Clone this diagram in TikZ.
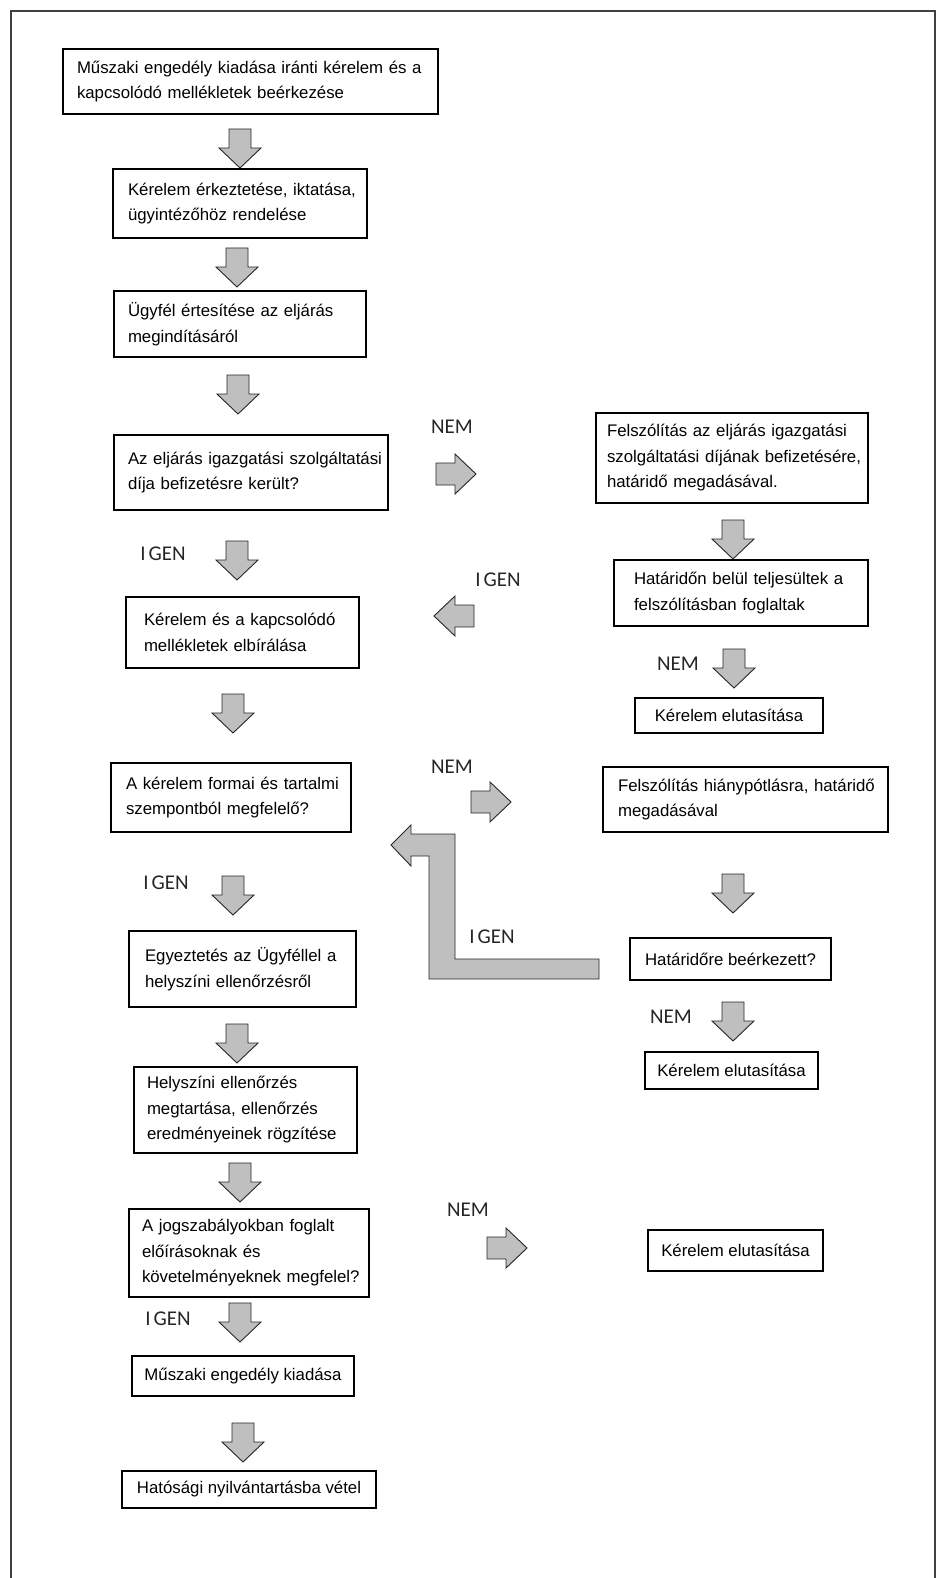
\documentclass[tikz,border=0pt]{standalone}
\usepackage{fontspec}
\setmainfont{Liberation Sans}
\newfontfamily\labfont{Carlito}
\newcommand{\DArrow}[2]{\draw[blk] ({#1-11},#2) -- ({#1+11},#2) -- ({#1+11},{#2+19}) -- ({#1+21},{#2+19}) -- (#1,{#2+39}) -- ({#1-21},{#2+19}) -- ({#1-11},{#2+19}) -- cycle;}
\newcommand{\RArrow}[2]{\draw[blk] (#1,{#2-11}) -- ({#1+19},{#2-11}) -- ({#1+19},{#2-20}) -- ({#1+40},#2) -- ({#1+19},{#2+20}) -- ({#1+19},{#2+11}) -- (#1,{#2+11}) -- cycle;}
\newcommand{\LArrow}[2]{\draw[blk] (#1,{#2-11}) -- ({#1-19},{#2-11}) -- ({#1-19},{#2-20}) -- ({#1-40},#2) -- ({#1-19},{#2+20}) -- ({#1-19},{#2+11}) -- (#1,{#2+11}) -- cycle;}
\begin{document}
\begin{tikzpicture}[x=1pt,y=-1pt,
  box/.style={draw=black, line width=1.1pt, fill=white, inner ysep=0pt,
    font=\fontsize{16.8pt}{25.5pt}\selectfont},
  mbox/.style={box, align=left},
  sbox/.style={box, align=center, inner xsep=0pt},
  lab/.style={font=\labfont\fontsize{21pt}{24pt}\selectfont, inner sep=0pt, text=black!85},
  blk/.style={draw=black!85, line width=0.9pt, fill=black!25, line join=miter}]
\useasboundingbox (0,0) rectangle (944,1578);
% frame
\draw[line width=1.2pt, black!75] (11,1578) -- (11,11) -- (935,11) -- (935,1578);

% left column boxes
\node[mbox, text width=347pt, inner xsep=14pt, minimum height=65pt] (b1) at (250.5,81.5)
  {\mbox{Műszaki engedély kiadása iránti kérelem és a}\\\mbox{kapcsolódó mellékletek beérkezése}};
\node[mbox, text width=224pt, inner xsep=15pt, minimum height=69pt] (b2) at (240,203.5)
  {\mbox{Kérelem érkeztetése, iktatása,}\\\mbox{ügyintézőhöz rendelése}};
\node[mbox, text width=224pt, inner xsep=14pt, minimum height=66pt] (b3) at (240,324)
  {\mbox{Ügyfél értesítése az eljárás}\\\mbox{megindításáról}};
\node[mbox, text width=246pt, inner xsep=14pt, minimum height=75pt] (b4) at (251,472.5)
  {\mbox{Az eljárás igazgatási szolgáltatási}\\\mbox{díja befizetésre került?}};
\node[mbox, text width=197pt, inner xsep=18pt, minimum height=71pt] (b5) at (242.5,632.5)
  {\mbox{Kérelem és a kapcsolódó}\\\mbox{mellékletek elbírálása}};
\node[mbox, text width=210pt, inner xsep=15pt, minimum height=69pt] (b6) at (231,797.5)
  {\mbox{A kérelem formai és tartalmi}\\\mbox{szempontból megfelelő?}};
\node[mbox, text width=195pt, inner xsep=16pt, minimum height=76pt] (b7) at (242.5,969)
  {\mbox{Egyeztetés az Ügyféllel a}\\\mbox{helyszíni ellenőrzésről}};
\node[mbox, text width=197pt, inner xsep=13pt, minimum height=86pt] (b8) at (245.5,1110)
  {\mbox{Helyszíni ellenőrzés}\\\mbox{megtartása, ellenőrzés}\\\mbox{eredményeinek rögzítése}};
\node[mbox, text width=214pt, inner xsep=13pt, minimum height=88pt] (b9) at (249,1253)
  {\mbox{A jogszabályokban foglalt}\\\mbox{előírásoknak és}\\\mbox{követelményeknek megfelel?}};
\node[sbox, minimum width=222pt, minimum height=40pt] (b10) at (243,1376) {Műszaki engedély kiadása};
\node[sbox, minimum width=254pt, minimum height=37pt] (b11) at (249,1489.5) {Hatósági nyilvántartásba vétel};

% right column boxes
\node[mbox, text width=250pt, inner xsep=11pt, minimum height=90pt] (r1) at (732,458)
  {\mbox{Felszólítás az eljárás igazgatási}\\\mbox{szolgáltatási díjának befizetésére,}\\\mbox{határidő megadásával.}};
\node[mbox, text width=214pt, inner xsep=20pt, minimum height=66pt] (r2) at (741,593)
  {\mbox{Határidőn belül teljesültek a}\\\mbox{felszólításban foglaltak}};
\node[sbox, minimum width=188pt, minimum height=35pt] (r3) at (729,715.5) {Kérelem elutasítása};
\node[mbox, text width=255pt, inner xsep=15pt, minimum height=65pt] (r4) at (745.5,799.5)
  {\mbox{Felszólítás hiánypótlásra, határidő}\\\mbox{megadásával}};
\node[sbox, minimum width=201pt, minimum height=42pt] (r5) at (730.5,959) {Határidőre beérkezett?};
\node[sbox, minimum width=173pt, minimum height=37pt] (r7) at (731.5,1070.5) {Kérelem elutasítása};
\node[sbox, minimum width=175pt, minimum height=41pt] (r6) at (735.5,1250.5) {Kérelem elutasítása};

% down block arrows, left column
\DArrow{240}{129}
\DArrow{237}{248}
\DArrow{238}{375}
\DArrow{237}{541}
\DArrow{233}{694}
\DArrow{233}{876}
\DArrow{237}{1024}
\DArrow{240}{1163}
\DArrow{240}{1303}
\DArrow{243}{1423}
% down block arrows, right column
\DArrow{733}{520}
\DArrow{734}{649}
\DArrow{733}{874}
\DArrow{733}{1002}
% side arrows
\RArrow{436}{474}
\LArrow{474}{616}
\RArrow{471}{802}
\RArrow{487}{1248}
% bent return arrow
\draw[blk] (599,979) -- (429,979) -- (429,856) -- (411,856) -- (411,866) -- (391,845)
  -- (411,825) -- (411,834) -- (455,834) -- (455,959) -- (599,959) -- cycle;

% labels
\node[lab] (n1) at (452,427) {NEM};
\node[lab] (i1) at (163,554) {I\kern3pt GEN};
\node[lab] (i2) at (498,580) {I\kern3pt GEN};
\node[lab] (n2) at (678,664) {NEM};
\node[lab] (n3) at (452,767) {NEM};
\node[lab] (i3) at (166,883) {I\kern3pt GEN};
\node[lab] (i4) at (492,937) {I\kern3pt GEN};
\node[lab] (n4) at (671,1017) {NEM};
\node[lab] (n5) at (468,1210) {NEM};
\node[lab] (i5) at (168,1319) {I\kern3pt GEN};
\end{tikzpicture}
\end{document}
